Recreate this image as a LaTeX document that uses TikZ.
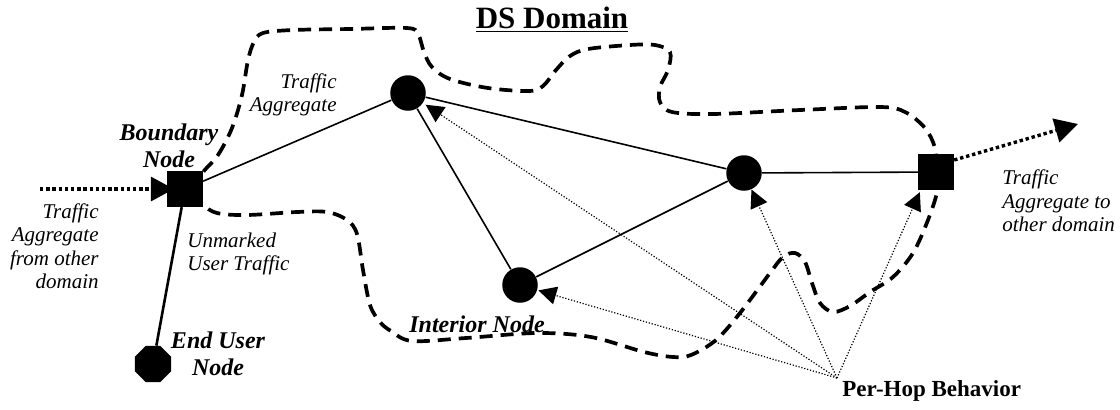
\documentclass[tikz,border=0pt]{standalone}
\usepackage{fontspec}
\setmainfont{Liberation Serif}
\usetikzlibrary{arrows.meta,shapes.geometric}
\begin{document}
\begin{tikzpicture}[x=0.5pt,y=-0.5pt,
  sq/.style={rectangle,fill=black,minimum size=17.75pt,inner sep=0pt},
  rt/.style={circle,fill=black,minimum size=17.75pt,inner sep=0pt},
  oct/.style={regular polygon,regular polygon sides=8,fill=black,minimum size=19.5pt,inner sep=0pt},
  link/.style={line width=0.8pt},
  ulink/.style={line width=1.3pt},
  extflow/.style={line width=1.7pt,dash pattern=on 1.7pt off 1.4pt,-{Triangle[length=11.5pt,width=12pt]}},
  phb/.style={line width=0.6pt,dash pattern=on 0.6pt off 0.9pt,-{Triangle[length=9pt,width=9pt]}},
  dsboundary/.style={line width=1.85pt,dash pattern=on 6.5pt off 4pt},
  lbl/.style={font=\fontsize{10.5}{11.75}\selectfont\itshape,inner sep=0pt},
  blbl/.style={font=\fontsize{12}{13.5}\selectfont\bfseries\itshape,inner sep=0pt,align=center},
]
\path[use as bounding box] (0,0) rectangle (1120,409);

% DS domain boundary
\draw[dsboundary] plot[smooth cycle,tension=0.55] coordinates {
 (203,172) (218,155) (232,128) (242,95) (248,60) (254,42) (263,33) (293,30)
 (350,29) (407,28) (418,34) (424,52) (432,67) (450,79) (488,88) (529,91)
 (543,86) (556,70) (570,56) (588,49) (630,45) (655,45) (670,52) (668,70)
 (660,87) (660,102) (672,112) (713,114) (800,110) (880,107) (905,112)
 (925,128) (935,148) (937,172) (937,192) (928,220) (913,253) (893,277)
 (870,292) (850,306) (833,312) (820,303) (812,283) (805,262) (795,253)
 (783,257) (770,273) (740,313) (716,340) (691,355) (673,357) (644,352)
 (591,337) (537,333) (466,338) (412,341) (391,331) (380,322) (370,305)
 (363,270) (357,234) (347,220) (327,212) (297,212) (247,215) (217,213)
 (202,204) (190,190)};

% nodes
\node[sq] (BN) at (185,189) {};
\node[sq] (SqR) at (936,172) {};
\node[rt] (A) at (408,93) {};
\node[rt] (B) at (744,173) {};
\node[rt] (C) at (520,285) {};
\node[oct] (EU) at (153,364) {};
\coordinate (inL) at (40,189);
\coordinate (outR) at (1078,124);
\coordinate (P) at (837,378);

% links
\draw[link] (BN) -- (A);
\draw[link] (A) -- (C);
\draw[link] (A) -- (B);
\draw[link] (C) -- (B);
\draw[link] (B) -- (SqR);
\draw[ulink] (EU) -- (BN);

% external flows
\draw[extflow] (inL) -- ([xshift=3.5pt]BN.west);
\draw[extflow] ([yshift=6pt]SqR.east) -- (outR);

% per-hop behaviour pointers
\draw[phb,shorten >=1.5pt] (P) -- (A);
\draw[phb,shorten >=0.5pt] (P) -- (C);
\draw[phb] (P) -- (B);
\draw[phb] (P) -- ([xshift=1pt,yshift=-1pt]SqR.south west);

% labels
\node[font=\fontsize{15.5}{18}\selectfont\bfseries,inner sep=0pt] (title) at (552,20) {\underline{DS Domain}};
\node[blbl] (lBN) at (169,146) {Boundary\\Node};
\node[blbl] (lEU) at (218,354) {End User\\Node};
\node[blbl] (lC) at (477,324) {Interior Node};
\node[font=\fontsize{11.5}{13}\selectfont\bfseries,inner sep=0pt,anchor=west] (lP) at (842,391) {Per-Hop Behavior};
\node[lbl,align=right,anchor=east] (lin) at (99,246) {Traffic\\Aggregate\\from other\\domain};
\node[lbl,align=left,anchor=west] (lout) at (1002,201) {Traffic\\Aggregate to\\other domain};
\node[lbl,align=right,anchor=east] (lTA) at (337,95) {Traffic\\Aggregate};
\node[lbl,align=left,anchor=west] (lUT) at (187,254) {Unmarked\\User Traffic};
\end{tikzpicture}
\end{document}
